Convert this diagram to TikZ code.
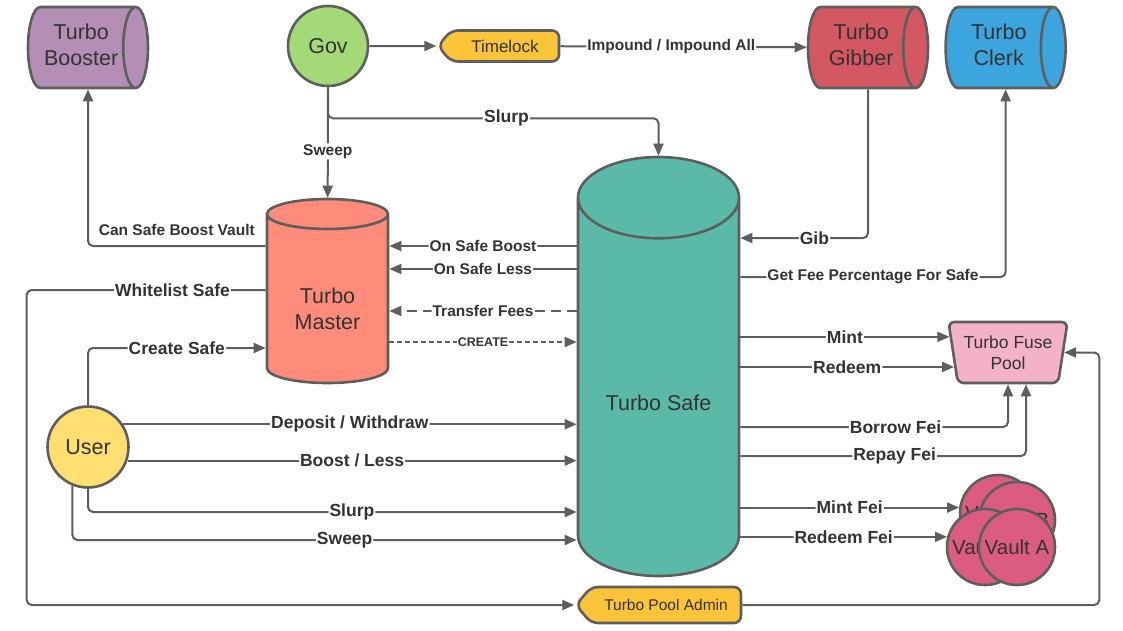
\documentclass[tikz,border=0pt]{standalone}
\usepackage{fontspec}
\setmainfont{Liberation Sans}
\usetikzlibrary{positioning, arrows.meta, shapes.geometric, shapes.symbols}

\definecolor{edgegray}{RGB}{94,94,94}
\definecolor{inkgray}{RGB}{51,51,51}
\definecolor{boosterpurple}{RGB}{180,142,180}
\definecolor{govgreen}{RGB}{164,217,119}
\definecolor{lockyellow}{RGB}{252,196,56}
\definecolor{gibberred}{RGB}{211,88,98}
\definecolor{clerkblue}{RGB}{60,165,221}
\definecolor{mastersalmon}{RGB}{255,139,122}
\definecolor{safeteal}{RGB}{91,185,167}
\definecolor{useryellow}{RGB}{255,223,113}
\definecolor{fusepink}{RGB}{244,178,198}
\definecolor{vaultrose}{RGB}{219,92,128}

\begin{document}
\begin{tikzpicture}[x=1pt, y=-1pt, >={Triangle[length=12pt, width=10pt]},
    unit/.style={draw=edgegray, line width=2.6pt, text=inkgray, align=center,
                 font=\fontsize{21.5}{26}\selectfont},
    hcyl/.style={unit, cylinder, aspect=0.52, minimum width=81pt, minimum height=120pt,
                 inner sep=0pt, text depth=6pt, anchor=shape center},
    vcyl/.style={unit, cylinder, shape border rotate=90, inner sep=0pt, anchor=shape center},
    tag/.style={unit, signal, signal to=west, signal pointer angle=100, fill=lockyellow,
                rounded corners=7pt, inner sep=0pt},
    vault/.style={unit, circle, minimum size=76pt, inner sep=0pt, fill=vaultrose,
                  font=\fontsize{20.5}{24}\selectfont},
    flow/.style={draw=edgegray, line width=2pt, ->, rounded corners=5pt},
    lbl/.style={fill=white, inner sep=1pt, text=inkgray,
                font=\bfseries\fontsize{17.5}{20}\selectfont},
    lblsmall/.style={lbl, font=\bfseries\fontsize{15.5}{18}\selectfont}]
  \useasboundingbox (0,0) rectangle (1123,630);

  % top row
  \node[hcyl, fill=boosterpurple] (booster) at (88,47.5) {Turbo\\Booster};
  \node[unit, circle, minimum size=80pt, inner sep=0pt, fill=govgreen] (gov) at (328,46) {Gov};
  \node[tag, minimum width=121pt, minimum height=31pt, font=\fontsize{17}{20}\selectfont,
        right=67pt of gov] (lock) {Timelock};
  \node[hcyl, fill=gibberred] (gibber) at (868,47.5) {Turbo\\Gibber};
  \node[hcyl, fill=clerkblue, right=15pt of gibber] (clerk) {Turbo\\Clerk};

  % middle
  \node[vcyl, fill=mastersalmon, aspect=0.456, minimum width=121pt, minimum height=184pt,
        text height=60pt] (master) at (327.5,291) {Turbo\\Master};
  \node[vcyl, fill=safeteal, aspect=0.77, minimum width=161pt, minimum height=419pt,
        text height=47pt] (safe) at (658.5,366.5) {Turbo Safe};
  \node[unit, circle, minimum size=81pt, inner sep=0pt, fill=useryellow] (user) at (88,447) {User};

  % right side
  \node[unit, trapezium, shape border rotate=180, trapezium angle=77, trapezium stretches body,
        minimum width=119pt, minimum height=61pt, rounded corners=6pt, fill=fusepink,
        font=\fontsize{17.5}{21}\selectfont] (fuse) at (1008,352.5) {Turbo Fuse\\Pool};
  \node[vault] (vd) at (998,513) {Vault D};
  \node[vault] (vb) at (1017,520) {Vault B};
  \node[vault] (vc) at (985,547) {Vault C};
  \node[vault] (va) at (1017,547) {Vault A};
  \node[tag, minimum width=165pt, minimum height=36pt, font=\fontsize{15.5}{18}\selectfont]
       (admin) at (666,605) {Turbo Pool Admin};

  % governance
  \draw[flow] (gov) -- (lock);
  \draw[flow] (lock) -- node[lblsmall, pos=0.45]{Impound / Impound All} (gibber);
  \draw[flow] (gov.south) -- ++(0,31) -| node[lbl, pos=0.27]{Slurp} (safe.north);
  \draw[flow] (gov) -- node[lblsmall, pos=0.58]{Sweep} (master);
  \draw[flow] (gibber.shape center |- gibber.south) |- node[lbl, pos=0.71]{Gib} (safe.east |- 0,238);
  \draw[flow] (safe.east |- 0,277) -| node[lblsmall, pos=0.25]{Get Fee Percentage For Safe} (clerk.shape center |- clerk.south);

  % master
  \draw[flow] (master.west |- 0,246) -| node[lblsmall, fill=none, pos=0.25, above=8pt]{Can Safe Boost Vault} (booster.shape center |- booster.south);
  \draw[flow] (master.west |- 0,290) -- node[lbl, pos=0.39]{Whitelist Safe} ++(-239,0) |- (admin.west);
  \draw[flow] (safe.west |- 0,246) -- node[lblsmall]{On Safe Boost} (master.east |- 0,246);
  \draw[flow] (safe.west |- 0,269) -- node[lblsmall]{On Safe Less} (master.east |- 0,269);
  \draw[flow, dash pattern=on 10pt off 6pt] (safe.west |- 0,311) -- node[lblsmall]{Transfer Fees} (master.east |- 0,311);
  \draw[flow, dash pattern=on 5pt off 3pt] (master.east |- 0,342) -- node[lbl, font=\bfseries\fontsize{12.5}{14}\selectfont]{CREATE} (safe.west |- 0,342);

  % user
  \draw[flow] (user.north) |- node[lbl, pos=0.75]{Create Safe} (master.west |- 0,348);
  \draw[flow] (user.33) -- node[lbl]{Deposit / Withdraw} (user.33 -| safe.west);
  \draw[flow] (user.-19) -- node[lbl]{Boost / Less} (user.-19 -| safe.west);
  \draw[flow] (user.south) |- node[lbl, pos=0.77]{Slurp} (safe.west |- 0,512);
  \draw[flow] (user.-112) |- node[lbl, pos=0.77]{Sweep} (safe.west |- 0,540);

  % fuse pool and vaults
  \draw[flow] (safe.east |- fuse.165) -- node[lbl]{Mint} (fuse.165);
  \draw[flow] (safe.east |- fuse.195) -- node[lbl]{Redeem} (fuse.195);
  \draw[flow] (safe.east |- 0,427) -| node[lbl, pos=0.29]{Borrow Fei} (fuse.south);
  \draw[flow] (safe.east |- 0,456) -| node[lbl, pos=0.27]{Repay Fei} ([xshift=18pt]fuse.south);
  \draw[flow] (safe.east |- vd.172) -- node[lbl]{Mint Fei} (vd.172);
  \draw[flow] (safe.east |- vc.165) -- node[lbl]{Redeem Fei} (vc.165);
  \draw[flow] (admin.east) -- ++(357,0) |- (fuse.east);
\end{tikzpicture}
\end{document}
